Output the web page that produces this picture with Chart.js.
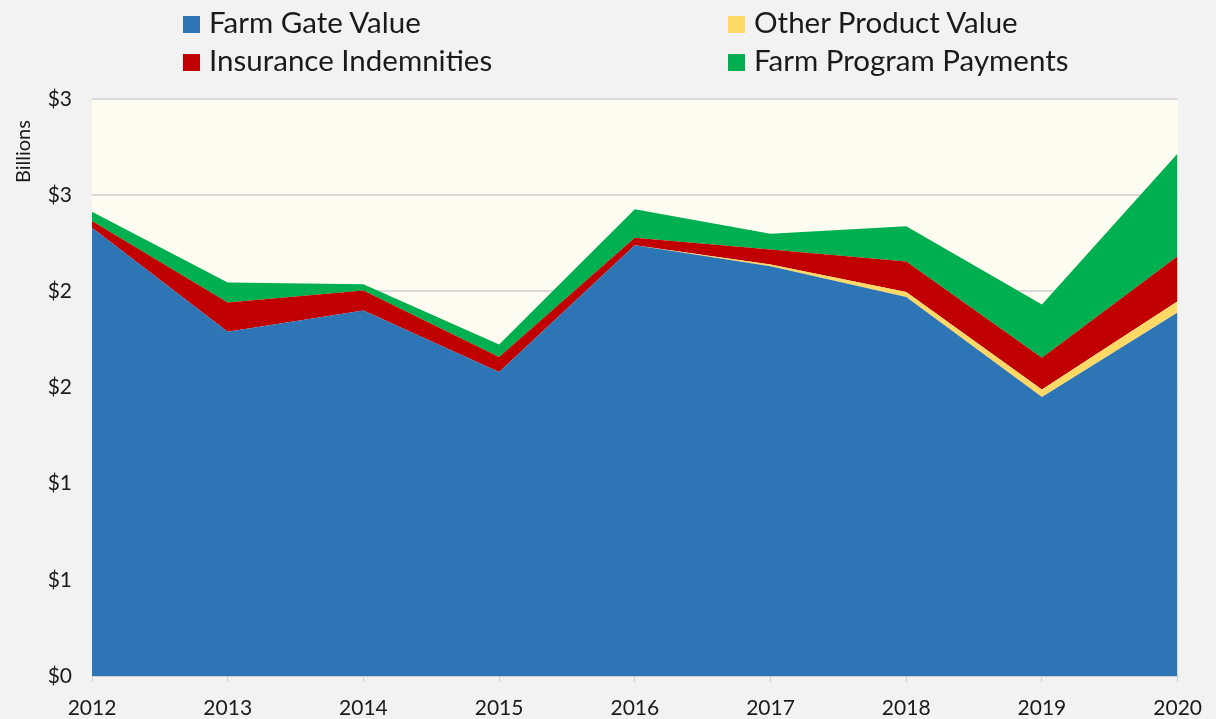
<!DOCTYPE html>
<html>
<head>
<meta charset="utf-8">
<script src="https://cdn.jsdelivr.net/npm/chart.js@4"></script>
<style>
  html, body { margin: 0; padding: 0; background: #f2f2f2; }
  #wrap { position: relative; width: 1216px; height: 719px; font-family: Lato, "Open Sans", sans-serif; color: #1a1a1a; }
  #myChart { position: absolute; left: 0; top: 0; }
  .leg { position: absolute; font-size: 29.5px; line-height: 30px; white-space: nowrap; }
  .leg span.box { display: inline-block; width: 17px; height: 17px; margin-right: 9px; vertical-align: 0px; }
  #ylab { position: absolute; left: -9px; top: 152px; width: 62px; text-align: center; font-size: 20px; line-height: 22px; transform: translate(0, -50%) rotate(-90deg); transform-origin: center; }
</style>
</head>
<body>
<div id="wrap">
  <canvas id="myChart" width="1216" height="719"></canvas>
  <div id="legend"></div>
  <div id="ylab">Billions</div>
</div>
<script>
var years = ['2012', '2013', '2014', '2015', '2016', '2017', '2018', '2019', '2020'];
var farmGate = [2.33, 1.79, 1.90, 1.58, 2.24, 2.13, 1.97, 1.45, 1.89];
var otherProduct = [0, 0, 0, 0, 0, 0.01, 0.026, 0.04, 0.058];
var insurance = [0.036, 0.152, 0.104, 0.079, 0.038, 0.077, 0.159, 0.165, 0.234];
var farmProgram = [0.048, 0.104, 0.033, 0.065, 0.149, 0.083, 0.184, 0.277, 0.534];
var yTicks = [0, 0.5, 1, 1.5, 2, 2.5, 3];
var yTickLabels = ['$0', '$1', '$1', '$2', '$2', '$3', '$3'];

var names = ['Farm Gate Value', 'Other Product Value', 'Insurance Indemnities', 'Farm Program Payments'];
var colors = ['#2e75b6', '#ffd966', '#c00000', '#00b050'];
var series = [farmGate, otherProduct, insurance, farmProgram];

// legend in two columns like the original
var legPos = [[183, 7], [728, 7], [183, 45], [728, 45]];
var legHtml = '';
for (var i = 0; i < names.length; i++) {
  legHtml += '<div class="leg" style="left:' + legPos[i][0] + 'px;top:' + legPos[i][1] + 'px">' +
    '<span class="box" style="background:' + colors[i] + '"></span>' + names[i] + '</div>';
}
document.getElementById('legend').innerHTML = legHtml;

var datasets = [];
for (var i = 0; i < series.length; i++) {
  datasets.push({
    label: names[i],
    data: series[i],
    backgroundColor: colors[i],
    borderColor: colors[i],
    borderWidth: 0,
    pointRadius: 0,
    fill: i == 0 ? 'origin' : '-1',
    tension: 0
  });
}

var plotBg = {
  id: 'plotBg',
  beforeDraw: function(chart) {
    var a = chart.chartArea, ctx = chart.ctx;
    ctx.save();
    ctx.fillStyle = '#fffcf2';
    ctx.fillRect(a.left, a.top, a.right - a.left, a.bottom - a.top);
    ctx.restore();
  }
};

var ctx = document.getElementById('myChart').getContext('2d');
var myChart = new Chart(ctx, {
  type: 'line',
  data: { labels: years, datasets: datasets },
  plugins: [plotBg],
  options: {
    responsive: false,
    animation: false,
    layout: { padding: { top: 99, right: 37, left: 0, bottom: 0 } },
    plugins: { legend: { display: false }, tooltip: { enabled: false } },
    scales: {
      x: {
        offset: false,
        grid: { display: true, drawOnChartArea: false, drawTicks: true, tickLength: 6, color: '#d0d0d0' },
        border: { color: '#d0d0d0' },
        ticks: { color: '#1a1a1a', font: { family: 'Lato', size: 21 }, padding: 14, maxRotation: 0 },
        afterFit: function(s) { s.height = 43; }
      },
      y: {
        stacked: true,
        min: 0,
        max: 3,
        afterBuildTicks: function(s) { s.ticks = yTicks.map(function(v) { return { value: v }; }); },
        grid: { color: '#d9d9d9', lineWidth: 2, drawTicks: false },
        border: { display: false },
        ticks: {
          color: '#1a1a1a',
          font: { family: 'Lato', size: 21 },
          padding: 20,
          callback: function(v) { return yTickLabels[yTicks.indexOf(v)]; }
        },
        afterFit: function(s) { s.width = 92; }
      }
    }
  }
});
</script>
</body>
</html>
